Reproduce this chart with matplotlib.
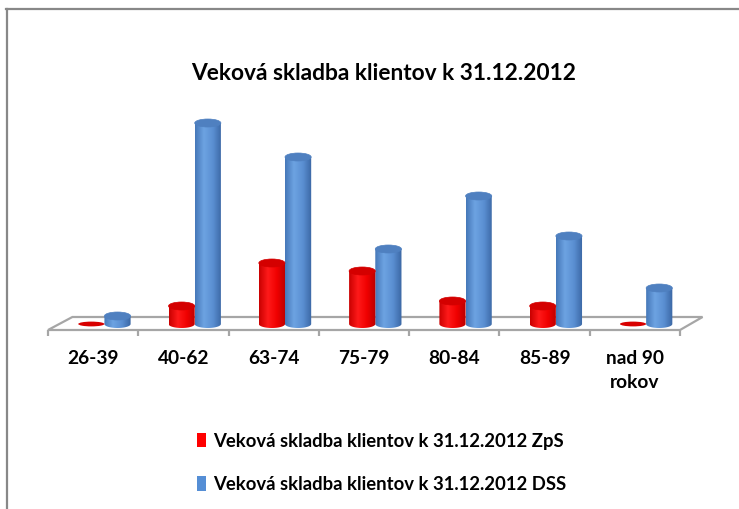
import numpy as np
import matplotlib
matplotlib.use('Agg')
import matplotlib.pyplot as plt
from matplotlib.path import Path
from matplotlib.patches import PathPatch, Ellipse, Polygon, Patch
from matplotlib.colors import LinearSegmentedColormap
from matplotlib.lines import Line2D

categories = ['26-39', '40-62', '63-74', '75-79', '80-84', '85-89', 'nad 90\nrokov']
zps = [1, 18, 61, 53, 23, 18, 0.5]
dss = [8, 201, 167, 75, 128, 88, 36]
title = 'Veková skladba klientov k 31.12.2012'
series_labels = ['Veková skladba klientov k 31.12.2012 ZpS',
                 'Veková skladba klientov k 31.12.2012 DSS']

FONT = ['Lato', 'DejaVu Sans']
plt.rcParams['font.family'] = FONT

W, H = 739, 509
fig = plt.figure(figsize=(W / 100, H / 100), dpi=100)
fig.patch.set_facecolor('white')

# axes: x from -0.5..6.5 -> px 48..680 ; y data units ~ pixels, 0 at px 324
y_lo, y_hi = -20, 230
ax = fig.add_axes([48 / W, (H - 344) / H, 632 / W, 250 / H])
ax.set_xlim(-0.5, 6.5)
ax.set_ylim(y_lo, y_hi)
for s in ax.spines.values():
    s.set_visible(False)
ax.set_yticks([])

red_cmap = LinearSegmentedColormap.from_list('r', ['#c80000', '#ff1a1a', '#f00000', '#b80000'])
blue_cmap = LinearSegmentedColormap.from_list('b', ['#4577b8', '#6da3e2', '#5a8fd2', '#3a66a3'])

EH = 8.0  # ellipse height in data units


def cylinder(xc, w, h, cmap, capcolor, z):
    x0, x1 = xc - w / 2, xc + w / 2
    t = np.linspace(np.pi, 2 * np.pi, 40)
    ex = xc + (w / 2) * np.cos(t)
    ey = (EH / 2) * np.sin(t)
    verts = [(x0, h)] + list(zip(ex, ey)) + [(x1, h), (x0, h)]
    codes = [Path.MOVETO] + [Path.LINETO] * (len(verts) - 2) + [Path.CLOSEPOLY]
    patch = PathPatch(Path(verts, codes), facecolor='none', edgecolor='none', zorder=z)
    ax.add_patch(patch)
    grad = np.linspace(0, 1, 256).reshape(1, -1)
    im = ax.imshow(grad, extent=[x0, x1, -EH / 2, h], cmap=cmap, aspect='auto',
                   zorder=z, interpolation='bicubic')
    im.set_clip_path(patch)
    ax.add_patch(Ellipse((xc, h), w, EH, facecolor=capcolor, edgecolor=capcolor,
                         lw=0.5, zorder=z + 0.1))


# floor
floor = Polygon([(-0.5, -6), (6.5, -6), (6.75, 7), (-0.23, 7)], closed=True,
                facecolor='white', edgecolor='#a6a6a6', lw=1.6, zorder=1, clip_on=False)
ax.add_patch(floor)
bounds = np.arange(-0.5, 7.0, 1.0)
ax.vlines(bounds, -12, -6, colors='#a6a6a6', lw=1.6, zorder=1, clip_on=False)

bw = 0.29
x = np.arange(len(categories))
for i in range(len(categories)):
    cylinder(x[i] + 0.27, bw, dss[i], blue_cmap, '#4f80c0', 3)
    if zps[i] < 2:
        ax.add_patch(Ellipse((x[i] - 0.02, 0), bw, EH * 0.6, facecolor='#d80000',
                             edgecolor='none', zorder=4))
    else:
        cylinder(x[i] - 0.02, bw, zps[i], red_cmap, '#d40000', 4)

ax.set_xlim(-0.5, 6.5)
ax.set_ylim(y_lo, y_hi)
ax.set_xticks(x)
ax.set_xticklabels(categories, fontsize=13.8, fontweight='bold', family=FONT)
ax.tick_params(axis='x', length=0, pad=4)
for lbl in ax.get_xticklabels():
    lbl.set_linespacing(1.5)

fig.text(384 / W, 1 - 73 / H, title, ha='center', va='center', fontsize=16.4,
         fontweight='bold', family=FONT)

handles = [Patch(facecolor='#ff0000', edgecolor='none'),
           Patch(facecolor='#558ed5', edgecolor='none')]
fig.legend(handles, series_labels, loc='upper left',
           bbox_to_anchor=(180 / W, 1 - 416 / H), frameon=False,
           prop={'family': FONT, 'size': 13.3, 'weight': 'bold'},
           handlelength=0.5, handleheight=0.8, handletextpad=0.4, labelspacing=1.42)

# chart frame (top and left edges visible)
fig.add_artist(Line2D([6 / W, 1.0], [1 - 9 / H, 1 - 9 / H], transform=fig.transFigure,
                      color='#888888', lw=1.6))
fig.add_artist(Line2D([7 / W, 7 / W], [0, 1 - 9 / H], transform=fig.transFigure,
                      color='#888888', lw=1.6))

fig.savefig('out.png', dpi=100)
